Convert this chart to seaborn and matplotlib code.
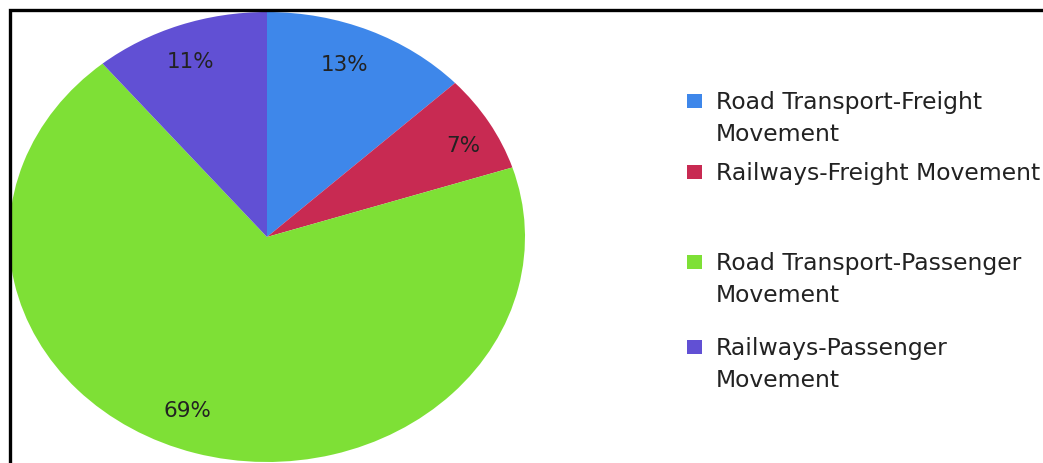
import seaborn as sns
import matplotlib.pyplot as plt
from matplotlib.patches import Rectangle

# data
categories = ["Road Transport-Freight\nMovement",
              "Railways-Freight Movement",
              "Road Transport-Passenger\nMovement",
              "Railways-Passenger\nMovement"]
shares = [13, 7, 69, 11]
colors = ["#3E87EA", "#C82A52", "#7EE036", "#6150D4"]

sns.set_theme(style="white")
# the source is a bit stretched sideways; DejaVu's wider glyphs follow that better
plt.rcParams['font.family'] = ['DejaVu Sans']

W, H = 1043, 464
fig = plt.figure(figsize=(W / 100, H / 100), dpi=100)

# pie axes, stretched a little wider than tall like the source
ax = fig.add_axes([9 / W, 1 - 463 / H, 516 / W, 450 / H])
wedges, texts, autotexts = ax.pie(
    shares, colors=colors, startangle=90, counterclock=False,
    autopct="%d%%", radius=1, wedgeprops=dict(linewidth=0),
    textprops=dict(fontsize=15.5, color="#222222"))
ax.set_aspect('auto')
ax.set_xlim(-1, 1)
ax.set_ylim(-1, 1)
ax.axis('off')

# percent labels sit where the source put them
label_pos = [(0.30, 0.77), (0.76, 0.41), (-0.31, -0.77), (-0.295, 0.78)]
for t, p in zip(autotexts, label_pos):
    t.set_position(p)
    t.set_ha('center')
    t.set_va('center')

# hand-made legend (spacing in the source is uneven)
baselines = [109, 180, 270, 355]
for lab, c, yb in zip(categories, colors, baselines):
    fig.patches.append(Rectangle((687 / W, 1 - yb / H), 15 / W, 14 / H,
                                 transform=fig.transFigure, color=c, lw=0))
    lines = lab.split("\n")
    for i, ln in enumerate(lines):
        fig.text(716 / W, 1 - (yb + i * 32) / H, ln, fontsize=16.9,
                 color="#222222", ha='left', va='baseline')

# black frame at top and left
fig.add_artist(Rectangle((10 / W, -0.05), 1.1, 1 - 11 / H + 0.05,
                         transform=fig.transFigure, fill=False,
                         edgecolor='black', lw=2.4))

fig.savefig("out.png", dpi=100)
